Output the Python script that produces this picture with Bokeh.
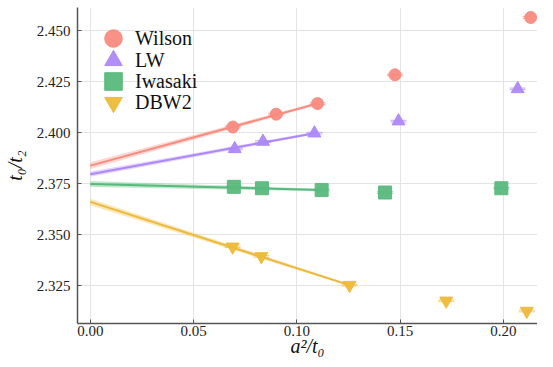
from bokeh.plotting import figure
from bokeh.models import (Range1d, FixedTicker, NumeralTickFormatter, Legend, LegendItem,
                          ColumnDataSource, Whisker, TeeHead)
from bokeh.embed import file_html
from bokeh.resources import INLINE

# ---- data ----
names = ["Wilson", "LW", "Iwasaki", "DBW2"]
colors = ["#F98B7F", "#AE88F8", "#58B97C", "#EDB93A"]
markers = ["circle", "triangle", "square", "inverted_triangle"]
sizes = [12, 13, 13, 13]

wilson_x = [0.0690, 0.0900, 0.1100, 0.1475, 0.2132]
wilson_y = [2.4027, 2.4090, 2.4142, 2.4283, 2.4564]
lw_x = [0.0699, 0.0836, 0.1085, 0.1492, 0.2069]
lw_y = [2.3920, 2.3956, 2.3997, 2.4056, 2.4214]
iwasaki_x = [0.0695, 0.0831, 0.1120, 0.1427, 0.1990]
iwasaki_y = [2.3734, 2.3727, 2.3718, 2.3706, 2.3727]
dbw2_x = [0.0689, 0.0828, 0.1255, 0.1723, 0.2113]
dbw2_y = [2.3440, 2.3393, 2.3252, 2.3175, 2.3125]
y_err = [0.0004, 0.0004, 0.0004, 0.0004, 0.0004]

# linear continuum fits (endpoints) and their band half-widths
wilson_fit_x = [0.0, 0.1100]
wilson_fit_y = [2.3838, 2.4142]
wilson_fit_err = [0.0017, 0.0006]
lw_fit_x = [0.0, 0.1085]
lw_fit_y = [2.3796, 2.3997]
lw_fit_err = [0.0013, 0.0006]
iwasaki_fit_x = [0.0, 0.1120]
iwasaki_fit_y = [2.3748, 2.3718]
iwasaki_fit_err = [0.0015, 0.0006]
dbw2_fit_x = [0.0, 0.1255]
dbw2_fit_y = [2.3660, 2.3252]
dbw2_fit_err = [0.0016, 0.0006]

x_ticks = [0.0, 0.05, 0.10, 0.15, 0.20]
y_ticks = [2.325, 2.350, 2.375, 2.400, 2.425, 2.450]
x_label = "a²/t₀"
y_label = "t₀/t₂"

series = [
    (wilson_x, wilson_y, wilson_fit_x, wilson_fit_y, wilson_fit_err),
    (lw_x, lw_y, lw_fit_x, lw_fit_y, lw_fit_err),
    (iwasaki_x, iwasaki_y, iwasaki_fit_x, iwasaki_fit_y, iwasaki_fit_err),
    (dbw2_x, dbw2_y, dbw2_fit_x, dbw2_fit_y, dbw2_fit_err),
]

FONT = "'Liberation Serif', 'DejaVu Serif', serif"
H = 359
TOP = 7
BOTTOM = 36
FRAME_H = H - TOP - BOTTOM
X0, X1 = -0.0062, 0.2165

p = figure(width=537, height=H, output_backend="svg", toolbar_location=None,
           x_range=Range1d(X0, X1), y_range=Range1d(2.3064, 2.4613),
           min_border_left=69, min_border_right=0, min_border_top=TOP, min_border_bottom=BOTTOM)
p.outline_line_color = None
p.background_fill_color = "white"

for ax in (p.xaxis[0], p.yaxis[0]):
    ax.axis_line_color = "#555555"
    ax.axis_line_width = 1.5
    ax.major_tick_in = 4
    ax.major_tick_out = 0
    ax.major_tick_line_color = "#555555"
    ax.minor_tick_line_color = None
    ax.major_label_text_font = FONT
    ax.major_label_text_font_size = "15px"
    ax.major_label_text_color = "#222222"
    ax.axis_label_text_font = FONT
    ax.axis_label_text_font_size = "20px"
    ax.axis_label_text_font_style = "italic"
    ax.axis_label_text_color = "#111111"

p.xaxis.ticker = FixedTicker(ticks=x_ticks)
p.yaxis.ticker = FixedTicker(ticks=y_ticks)
p.xaxis.formatter = NumeralTickFormatter(format="0.00")
p.yaxis.formatter = NumeralTickFormatter(format="0.000")
p.xaxis.major_label_standoff = 2
p.yaxis.major_label_standoff = 7
p.xaxis.axis_label = x_label
p.yaxis.axis_label = y_label
p.xaxis.axis_label_standoff = -4
p.yaxis.axis_label_standoff = 8

p.xgrid.ticker = FixedTicker(ticks=x_ticks)
p.ygrid.ticker = FixedTicker(ticks=y_ticks)
p.grid.grid_line_color = "#e4e4e4"
p.grid.grid_line_width = 1

legend_tops = [9, 31, 52, 73]  # offset of each legend glyph box below the frame top (px)

for (xs, ys, fx, fy, fe), name, col, mk, sz, top in zip(series, names, colors, markers, sizes, legend_tops):
    lo = [a - b for a, b in zip(fy, fe)]
    hi = [a + b for a, b in zip(fy, fe)]
    p.varea(x=fx, y1=lo, y2=hi, fill_color=col, fill_alpha=0.35)
    p.line(x=fx, y=fy, line_color=col, line_width=2)
    r = p.scatter(x=xs, y=ys, marker=mk, size=sz, fill_color=col, line_color=col,
                  fill_alpha=0.95, line_alpha=0.95)
    src = ColumnDataSource(dict(x=xs, lo=[a - e for a, e in zip(ys, y_err)],
                                hi=[a + e for a, e in zip(ys, y_err)]))
    w = Whisker(base="x", lower="lo", upper="hi", source=src, line_color=col,
                line_alpha=0.7, line_width=1,
                upper_head=TeeHead(size=16, line_color=col, line_alpha=0.7),
                lower_head=TeeHead(size=16, line_color=col, line_alpha=0.7))
    p.add_layout(w)
    lg = Legend(items=[LegendItem(label=name, renderers=[r])],
                location=(14, FRAME_H - top - 44), glyph_width=44, glyph_height=44,
                label_standoff=0, padding=0, margin=0,
                label_text_font=FONT, label_text_font_size="20px", label_text_color="#111111",
                background_fill_alpha=0, border_line_alpha=0)
    p.add_layout(lg, "center")

open("out.html", "w").write(file_html(p, INLINE))
